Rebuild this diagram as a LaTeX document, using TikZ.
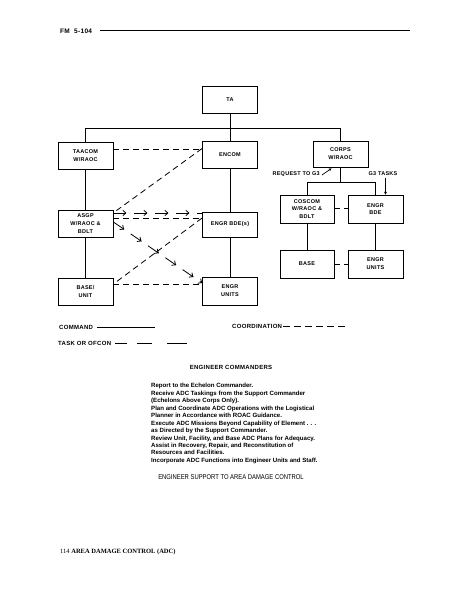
\documentclass[tikz,border=0pt]{standalone}
\usepackage{fontspec}
\usepackage{graphicx}
\setmainfont{Liberation Sans}
\newfontfamily\lab{Liberation Sans}[LetterSpace=5]
\newfontfamily\bodyf{Liberation Sans}
\newfontfamily\footf{Liberation Serif}
\newfontfamily\condf{Liberation Sans}[FakeStretch=0.84]
\usetikzlibrary{arrows.meta,decorations.markings}
\tikzset{
  box/.style={draw, line width=0.8pt, minimum width=55pt, minimum height=27pt, inner sep=0pt, align=center,
    font={\lab\bfseries\fontsize{5.5}{7.8}\selectfont}},
  cmd/.style={line width=0.8pt},
  coordl/.style={line width=0.8pt, dash pattern=on 6pt off 4pt},
  taskl/.style={line width=0.8pt, dash pattern=on 13pt off 8pt},
  barb/.tip={Straight Barb[length=3pt,width=5.5pt,line width=0.8pt]},
  tipsat/.style={postaction={decorate, decoration={markings,
      mark=at position 13pt with {\arrow{barb}},
      mark=at position 34pt with {\arrow{barb}},
      mark=at position 55pt with {\arrow{barb}},
      mark=at position 76pt with {\arrow{barb}},
      mark=at position 97pt with {\arrow{barb}}}}},
  tipsfour/.style={postaction={decorate, decoration={markings,
      mark=at position 13pt with {\arrow{barb}},
      mark=at position 34pt with {\arrow{barb}},
      mark=at position 55pt with {\arrow{barb}},
      mark=at position 76pt with {\arrow{barb}}}}},
  legend/.style={anchor=west, inner sep=0pt, font={\lab\bfseries\fontsize{6}{7}\selectfont}},
  small/.style={inner sep=0pt, font={\lab\bfseries\fontsize{5.5}{7}\selectfont}},
}
\begin{document}
\begin{tikzpicture}[x=1pt, y={(0pt,-1pt)}]
\useasboundingbox (0,0) rectangle (465,599);
\fill[white] (0,0) rectangle (465,599);

% header
\node[anchor=west, inner sep=0pt, font={\lab\bfseries\fontsize{6.5}{7}\selectfont}] (hdr) at (60,31) {FM~~5-104};
\coordinate (hdrS) at (100,30);
\coordinate (hdrE) at (410,30);
\draw[line width=0.6pt] (hdrS) -- (hdrE);

% boxes
\node[box] (ta) at (230,100) {TA};
\node[box] (taacom) at (85.5,155.5) {TAACOM\\W/RAOC};
\node[box] (encom) at (230,154.5) {ENCOM};
\node[box, minimum height=26pt] (corps) at (340.5,154) {CORPS\\W/RAOC};
\node[box] (asgp) at (85.5,223.5) {ASGP\\W/RAOC \&\\BDLT};
\node[box, minimum height=25pt] (bdes) at (230,224.5) {ENGR BDE(s)};
\node[box] (baseunit) at (85.5,291.5) {BASE/\\UNIT};
\node[box, minimum height=28pt] (units) at (230,291) {ENGR\\UNITS};
\node[box, minimum width=54pt, minimum height=28pt] (coscom) at (307,209) {COSCOM\\W/RAOC \&\\BDLT};
\node[box, minimum height=28pt] (rbde) at (375.5,209) {ENGR\\BDE};
\node[box, minimum width=54pt, minimum height=28pt] (base) at (307,264) {BASE};
\node[box, minimum height=28pt] (runits) at (375.5,264) {ENGR\\UNITS};

% command lines
\coordinate (bus) at (0,128);
\coordinate (split) at (0,182);
\draw[cmd] (ta.south) -- (encom.north);
\draw[cmd] (taacom.north) -- (taacom.north |- bus) -- (corps.north |- bus) -- (corps.north);
\draw[cmd] (taacom.south) -- (asgp.north);
\draw[cmd] (asgp.south) -- (baseunit.north);
\draw[cmd] (encom.south) -- (bdes.north);
\draw[cmd] (bdes.south) -- (units.north);
\draw[cmd] (corps.south) -- (corps.south |- split);
\draw[cmd] (coscom.north) -- (coscom.north |- split) -- (rbde.north |- split) -- (rbde.north);
\draw[cmd] (coscom.south) -- (base.north);
\draw[cmd] (rbde.south) -- (runits.north);

% coordination lines
\draw[coordl] ([yshift=6.5pt]taacom.east) -- ([yshift=6.5pt]taacom.east -| encom.west);
\draw[coordl] ([yshift=6pt]encom.west) -- ([xshift=3pt,yshift=-1pt]asgp.north east);
\draw[coordl] ([yshift=5.5pt]asgp.east) -- ([yshift=5.5pt]asgp.east -| bdes.west);
\draw[coordl] ([yshift=6.5pt]bdes.west) -- ([yshift=7.5pt]baseunit.east);
\draw[coordl] ([yshift=7.5pt]baseunit.east) -- ([yshift=7.5pt]baseunit.east -| units.west);
\draw[coordl] ([yshift=1pt]coscom.east) -- ([yshift=1pt]coscom.east -| rbde.west);
\draw[coordl] (base.east) -- (runits.west);

% task lines
\draw[taskl, tipsfour] ([yshift=10.5pt]asgp.east) -- ([yshift=10.5pt]asgp.east -| bdes.west);
\draw[taskl, tipsat, -{barb}] ([yshift=1.5pt]asgp.east) -- ([yshift=8pt]units.west);

% request / G3 tasks
\node[small, anchor=east] (req) at (320,174) {REQUEST TO G3};
\node[small] (g3) at (383,174) {G3 TASKS};
\draw[line width=0.7pt, -{Stealth[length=3pt,width=3pt]}] ([xshift=2pt,yshift=-1pt]req.east) -- ([xshift=-9pt,yshift=-1pt]corps.south);
\draw[line width=0.7pt, -{Stealth[length=3pt,width=3pt]}] ([xshift=2.5pt,yshift=-1.5pt]g3.south) -- ([xshift=2.5pt]g3.south |- rbde.north);

% legend
\node[legend] (lcmd) at (59,327) {COMMAND};
\draw[line width=0.8pt] (97,327) -- (155,327);
\node[legend] (lcoord) at (232,326) {COORDINATION};
\draw[line width=0.8pt, dash pattern=on 7pt off 4pt] (283,326) -- (345,326);
\node[legend] (ltask) at (58,343) {TASK OR OFCON};
\draw[line width=0.8pt] (115,343) -- (127,343) (137,343) -- (152,343) (167,343) -- (187,343);

% text block
\node[inner sep=0pt, font={\lab\bfseries\fontsize{6}{7}\selectfont}] (eng) at (231,367) {ENGINEER COMMANDERS};
\node[anchor=north west, inner sep=0pt, align=left, font={\bodyf\bfseries\fontsize{6.1}{7.45}\selectfont}] (list) at (151,383.3)
{Report to the Echelon Commander.\\
Receive ADC Taskings from the Support Commander\\
(Echelons Above Corps Only).\\
Plan and Coordinate ADC Operations with the Logistical\\
Planner in Accordance with ROAC Guidance.\\
Execute ADC Missions Beyond Capability of Element . . .\\
as Directed by the Support Commander.\\
Review Unit, Facility, and Base ADC Plans for Adequacy.\\
Assist in Recovery, Repair, and Reconstitution of\\
Resources and Facilities.\\
Incorporate ADC Functions into Engineer Units and Staff.};
\node[inner sep=0pt, font={\condf\fontsize{7}{8}\selectfont}] (title) at (231,477) {ENGINEER SUPPORT TO AREA DAMAGE CONTROL};

% footer
\node[anchor=west, inner sep=0pt, font={\footf\fontsize{6.5}{7}\selectfont}] (foot) at (60,552) {114 \textbf{AREA DAMAGE CONTROL (ADC)}};
\end{tikzpicture}
\end{document}
